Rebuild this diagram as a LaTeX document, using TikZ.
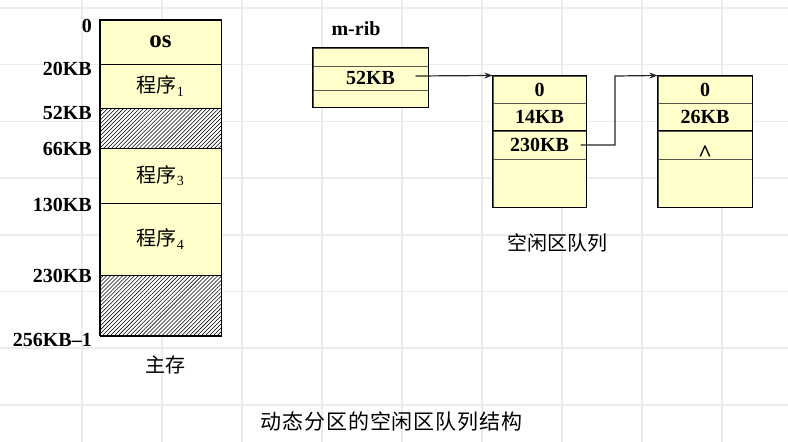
\documentclass[tikz,border=0pt]{standalone}
\usepackage{fontspec}
\setmainfont{Liberation Serif}
\newfontfamily\cjk{Noto Sans CJK SC}
\newfontfamily\cjkwide[LetterSpace=4]{Noto Sans CJK SC}
\usetikzlibrary{patterns.meta,arrows.meta,calc}
\definecolor{cellfill}{HTML}{FFFFCC}
\definecolor{gridc}{HTML}{EBEBEB}
\definecolor{sepc}{HTML}{55554A}
\begin{document}
\begin{tikzpicture}[x=1pt,y=-1pt,
  big/.style={font=\fontsize{20}{20}\selectfont\bfseries},
  cell/.style={draw=#1,line width=1pt,fill=cellfill,inner sep=0pt,big,text=black},
  cell/.default=black,
  hatch/.style={draw=black,line width=1pt,inner sep=0pt,preaction={fill=white},
    pattern={Lines[angle=45,distance=2.8pt,line width=0.55pt]}},
  addr/.style={big,anchor=base east,inner sep=0pt},
  outer/.style={draw=black,line width=1.3pt},
  link/.style={draw=black!85,line width=1.2pt,-{Stealth[length=8pt,width=6pt]}},
  captext/.style={font=\fontsize{20}{20}\selectfont\cjk,inner sep=0pt}
]
\fill[white] (0,0) rectangle (788,442);
\useasboundingbox (0,0) rectangle (788,442);
% grid
\foreach \x in {82,162,...,722} \draw[gridc,line width=1.5pt] (\x,0) -- (\x,442);
\foreach \k in {0,...,7} \draw[gridc,line width=1.5pt] (0,{8+56.7*\k}) -- (788,{8+56.7*\k});

% main memory
\node[cell,minimum width=121pt,minimum height=44pt,font=\fontsize{25}{25}\selectfont\bfseries] (os) at (160.5,42) {os};
\node[cell,minimum width=121pt,minimum height=44pt,font=\fontsize{20}{20}\selectfont] (p1) at (160.5,86) {{\cjk 程序}\textsubscript{1}};
\node[hatch,minimum width=121pt,minimum height=40pt] (f1) at (160.5,128) {};
\node[cell,minimum width=121pt,minimum height=55pt,font=\fontsize{20}{20}\selectfont] (p3) at (160.5,175.5) {{\cjk 程序}\textsubscript{3}};
\node[cell,minimum width=121pt,minimum height=72pt,font=\fontsize{20}{20}\selectfont] (p4) at (160.5,239) {{\cjk 程序}\textsubscript{4}};
\node[hatch,minimum width=121pt,minimum height=60pt] (f2) at (160.5,305) {};
\draw[outer] (os.north west) rectangle (f2.south east);
\draw[black,line width=2pt] (f2.south west) -- (f2.south east);

% addresses
\node[addr] (a0) at (92,32) {0};
\node[addr] (a20) at (92,75) {20KB};
\node[addr] (a52) at (92,119) {52KB};
\node[addr] (a66) at (92,155) {66KB};
\node[addr] (a130) at (92,211) {130KB};
\node[addr] (a230) at (92,282) {230KB};
\node[addr] (aend) at (92,346) {256KB–1};
\node[captext] (zc) at (165,365) {主存};

% m-rib
\node[big,anchor=base,inner sep=0pt] (mrib) at (356,35) {m-rib};
\node[cell=sepc,minimum width=115pt,minimum height=18pt] (r0) at (370.5,57) {};
\node[cell=sepc,minimum width=115pt,minimum height=24pt] (r52) at (370.5,78) {52KB};
\node[cell=sepc,minimum width=115pt,minimum height=17pt] (r2) at (370.5,98.5) {};
\draw[outer] (r0.north west) rectangle (r2.south east);

% free block 1
\node[cell=sepc,minimum width=93pt,minimum height=27pt] (b1a) at (539.5,89.5) {0};
\node[cell=sepc,minimum width=93pt,minimum height=28pt] (b1b) at (539.5,117) {14KB};
\node[cell=sepc,minimum width=93pt,minimum height=28pt] (b1c) at (539.5,145) {230KB};
\node[cell=sepc,minimum width=93pt,minimum height=48pt] (b1d) at (539.5,183) {};
\draw[black,line width=1pt] (b1c.north west) -- (b1c.north east);
\draw[outer] (b1a.north west) rectangle (b1d.south east);

% free block 2
\node[cell=sepc,minimum width=94pt,minimum height=27pt] (b2a) at (705,89.5) {0};
\node[cell=sepc,minimum width=94pt,minimum height=28pt] (b2b) at (705,117) {26KB};
\node[cell=sepc,minimum width=94pt,minimum height=28pt] (b2c) at (705,145) {};
\node[cell=sepc,minimum width=94pt,minimum height=48pt] (b2d) at (705,183) {};
\draw[black,line width=1pt] (b2c.north west) -- (b2c.north east);
\draw[outer] (b2a.north west) rectangle (b2d.south east);
\node[font=\fontsize{24}{24}\selectfont\bfseries,anchor=base,inner sep=0pt] (nil) at (705,161) {\textasciicircum};

\node[captext] (qc) at (557,243) {空闲区队列};
\node[font=\fontsize{21}{21}\selectfont\cjkwide,inner sep=0pt] (title) at (391.5,422) {动态分区的空闲区队列结构};

% links
\draw[link] ($(r52.east)+(-13,-2)$) -- (b1a.north west);
\coordinate (turn) at (615,76);
\draw[link] ($(b1c.east)+(-6,0)$) -| (turn) -- (b2a.north west);
\end{tikzpicture}
\end{document}
